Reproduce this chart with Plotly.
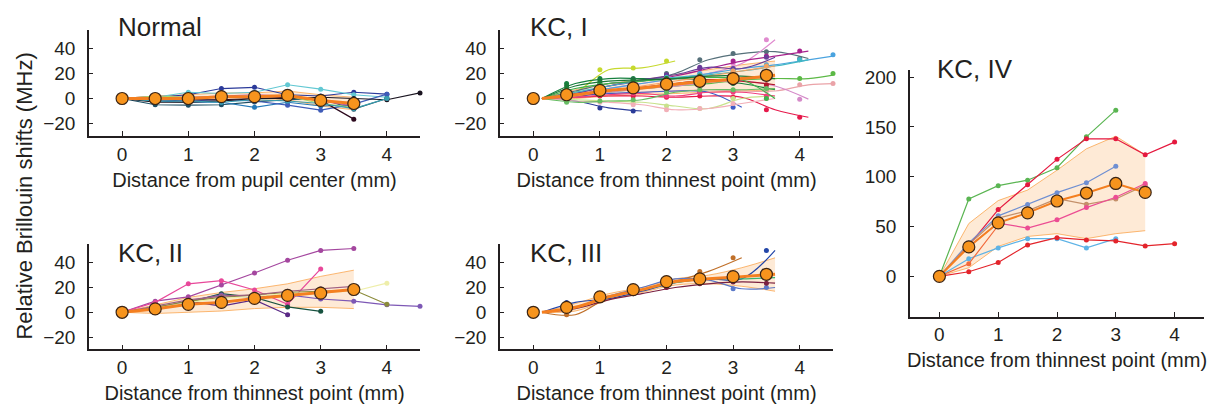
import plotly.graph_objects as go

# ---------------- data ----------------
X_POS = [0, 0.5, 1, 1.5, 2, 2.5, 3, 3.5, 4, 4.5]
X_TICKS = [0, 1, 2, 3, 4]
Y_TICKS_SMALL = [-20, 0, 20, 40]
Y_TICKS_IV = [0, 50, 100, 150, 200]

PANEL_TITLES = ["Normal", "KC, I", "KC, II", "KC, III", "KC, IV"]
X_TITLES = ["Distance from pupil center (mm)",
            "Distance from thinnest point (mm)",
            "Distance from thinnest point (mm)",
            "Distance from thinnest point (mm)",
            "Distance from thinnest point (mm)"]
Y_TITLE = "Relative Brillouin shifts (MHz)"

# Normal
NORMAL_SERIES = [
    [0, 1, 3, 8, 9, 3, 2, 5, 3.5],
    [0, 1, 5, 4, 5, 11, 7.5, 3, 1],
    [0, -5, -5.3, -5, -2.7, -1, 0, -8.5, 0],
    [0, -2, -3, -3, -7, -3, -6, -5],
    [0, -1, -2, -1, -2, -5.3, -9.3, -4.5, 3.5],
    [0, -1, -1, -1, 0, 1, -1.3, -16.5],
    [0, -3, -3, -2, 0, 0, 1, 0, -1, 4.5],
    [0, 2, 1, 2, 3, 2, -2, -6],
    [0, 2, 1, 1, 2, 2, -4, -7],
    [0, -2, -2, -3, -1, -2, -4, -8, 0],
]
NORMAL_MEAN = [0, 0, 0, 1.5, 1.5, 2.5, -1.5, -4]
NORMAL_UPPER = [0, 2, 3, 4.5, 4.5, 6, 3, 1]
NORMAL_LOWER = [0, -2, -3, -1.5, -1.5, -1, -6, -9]

# KC, I
KC1_SERIES = [
    [0, 5, 23, 24.5, 30],
    [0, 12, 16, 16, 16, 15, 12, 7],
    [0, 6, 12, 14, 20, 31, 36, 37.5, 32],
    [0, 3, 8, 12, 16, 20, 28, 47],
    [0, 4, 10, 14, 18, 24, 30, 34, 38],
    [0, 3, 8, 12, 16, 20, 24, 27, 31, 35],
    [0, 2, 5, 8, 10, 12, 15, 16, 16, 20],
    [0, 1, 3, 5, 6, 7, 6, 6, 11, 12],
    [0, 2, 5, 8, 10, 13, 14, 10, -0.5],
    [0, 1, 2, 2, 1, 2, 1, -9, -15],
    [0, -2, -7.5, -10],
    [0, 2, 4, 5, 6, 5, -7],
    [0, -1, -2, -3, -6, -8, 0, 2],
    [0, -2, -3, -5, -9, -8, -4, 0],
    [0, 4, 10, 15, 19, 25, 24, 33],
    [0, 2, 6, 9, 12, 15, 14, 11],
    [0, 5, 10, 14, 17, 19, 22, 26, 31],
    [0, 1, 3, 4, 2, 5, 5, 2],
    [0, -3, -2, -1, 5, 7, 7, 8],
    [0, 2, 6, 10, 14, 18, 22, 26],
    [0, 8, 12, 14, 16, 17, 15, 0],
    [0, 10, 14, 15, 16, 18, 18, 16],
]
KC1_MEAN = [0, 3, 6.5, 8.5, 11.5, 13.8, 16, 18.6]
KC1_UPPER = [0, 7, 12, 15, 19, 23, 27, 30]
KC1_LOWER = [0, 0, 2, 3, 4, 5, 6, 7]

# KC, II
KC2_SERIES = [
    [0, 9, 12.5, 22, 31.7, 42, 50, 51.5],
    [0, 8, 23, 25.5, 18, 6.5, 35],
    [0, 4, 8, 15, 12, 4.3, 0.8],
    [0, 3, 9, 5, 10, -2],
    [0, 3, 9, 14, 12, 14, 10.7, 9, 6, 4.8],
    [0, 4, 9, 12, 14, 16, 17, 18, 6.5],
    [0, 3, 8, 11, 13, 15, 16, 17, 23.5],
    [0, 5, 10, 13, 14, 17, 19, 21],
]
KC2_MEAN = [0, 2.7, 6.4, 8, 11.2, 13.6, 15.5, 18.4]
KC2_UPPER = [0, 6, 12, 16, 19, 23, 29, 34]
KC2_LOWER = [0, -1, 0, 1, 3, 4, 4, 3]

# KC, III
KC3_SERIES = [
    [0, -2, 12, 18, 25, 33, 44],
    [0, 8, 11, 17, 24, 27, 27, 50],
    [0, 4, 13, 20, 27, 26, 19, 20],
    [0, 3, 10, 15, 20, 23, 24.5, 23.5],
    [0, 4, 12, 18, 24, 27, 27, 28],
]
KC3_MEAN = [0, 4, 12.5, 18.3, 24.8, 27, 28.8, 30.7]
KC3_UPPER = [0, 7, 15, 20, 27, 30, 36, 44]
KC3_LOWER = [0, 1, 10, 16, 22, 23, 21, 17]

# KC, IV
KC4_SERIES = [
    [0, 77.6, 91, 96.5, 109, 140, 166.8],
    [0, 31, 67, 92, 117.4, 138, 138, 122, 134.7],
    [0, 33.5, 60.7, 72, 84, 93.9, 110.4],
    [0, 32, 58.4, 65.7, 78, 72.3, 77.6, 91.5],
    [0, 30, 53.4, 48.4, 56.7, 69, 79.3, 93.2],
    [0, 17.6, 28.5, 37.8, 37.8, 28.5, 37.8],
    [0, 12.6, 51],
    [0, 4.6, 13.9, 31.5, 38.8, 36.5, 35.5, 30.5, 32.8],
]
KC4_MEAN = [0, 29.5, 53.7, 63.7, 75.6, 83.6, 93.2, 84.2]
KC4_UPPER = [0, 53, 76, 86.6, 106.5, 128, 140.6, 122]
KC4_LOWER = [0, 8.6, 30, 40, 42.8, 37.8, 42.8, 45.8]

# ---------------- styles ----------------
NORMAL_COLORS = ["#2b3a9a", "#62c8d3", "#1d4e63", "#2479b8", "#3f5cb8",
                 "#2d0a1e", "#1a1420", "#c2539a", "#a6d96a", "#3a9fb0"]
KC1_COLORS = ["#c6d92e", "#17813f", "#56707a", "#e08bcf", "#a8228e",
              "#4aa3df", "#5cb946", "#eaa3a8", "#d58ac9", "#e6194b",
              "#2a3b98", "#3f5cc6", "#c8e28c", "#f2b0b8", "#6a3d9a",
              "#b2182b", "#41b6c4", "#f0407e", "#66bd63", "#f4a261",
              "#3cb44b", "#1b7837"]
KC2_COLORS = ["#a4479f", "#e8489a", "#17523f", "#5b2a86", "#7d58b5",
              "#8b8b3a", "#eeeeaa", "#a06080"]
KC3_COLORS = ["#c0702a", "#2346a8", "#5a78c8", "#7a2040", "#3cb371"]
KC4_COLORS = ["#5ab552", "#e5193f", "#6f8fd2", "#c4906a", "#ec4d93",
              "#5eb3e6", "#f26a3c", "#e3242b"]

TEXT = "#231f20"
FONT = "Liberation Sans, Arial, Helvetica, sans-serif"
MEAN_LINE = "#f47f20"
MEAN_FILL = "#f7941d"
BAND_FILL = "rgba(250,170,90,0.25)"
BAND_EDGE = "rgba(250,160,70,0.75)"

fig = go.Figure()


def axis_names(i):
    s = "" if i == 1 else str(i)
    return "x" + s, "y" + s


def add_panel(i, series, colors, mean, upper, lower, shift, shape, mean_w):
    xa, ya = axis_names(i)
    n = len(mean)
    xb = [x + shift for x in X_POS[:n]]
    common = dict(xaxis=xa, yaxis=ya, showlegend=False, hoverinfo="skip",
                  cliponaxis=False)
    # band
    fig.add_trace(go.Scatter(x=xb, y=lower, mode="lines",
                             line=dict(color=BAND_EDGE, width=1, shape=shape),
                             **common))
    fig.add_trace(go.Scatter(x=xb, y=upper, mode="lines", fill="tonexty",
                             fillcolor=BAND_FILL,
                             line=dict(color=BAND_EDGE, width=1, shape=shape),
                             **common))
    # individual series
    for s, c in zip(series, colors):
        xs = X_POS[:len(s)]
        if shift:
            fig.add_trace(go.Scatter(x=[x + shift for x in xs], y=s, mode="lines",
                                     line=dict(color=c, width=1.2, shape=shape),
                                     **common))
            fig.add_trace(go.Scatter(x=xs[1:], y=s[1:], mode="markers",
                                     marker=dict(color=c, size=5), **common))
        else:
            fig.add_trace(go.Scatter(x=xs, y=s, mode="lines+markers",
                                     line=dict(color=c, width=1.2, shape=shape),
                                     marker=dict(color=c, size=5), **common))
    # mean
    fig.add_trace(go.Scatter(x=xb, y=mean, mode="lines",
                             line=dict(color=MEAN_LINE, width=mean_w, shape=shape),
                             **common))
    fig.add_trace(go.Scatter(x=X_POS[:n], y=mean, mode="markers",
                             marker=dict(color=MEAN_FILL, size=12,
                                         line=dict(color="#3b2414", width=1.2)),
                             **common))


add_panel(1, NORMAL_SERIES, NORMAL_COLORS, NORMAL_MEAN, NORMAL_UPPER, NORMAL_LOWER, 0, "linear", 3)
add_panel(2, KC1_SERIES, KC1_COLORS, KC1_MEAN, KC1_UPPER, KC1_LOWER, 0.13, "spline", 3)
add_panel(3, KC2_SERIES, KC2_COLORS, KC2_MEAN, KC2_UPPER, KC2_LOWER, 0, "linear", 3)
add_panel(4, KC3_SERIES, KC3_COLORS, KC3_MEAN, KC3_UPPER, KC3_LOWER, 0.13, "spline", 3)
add_panel(5, KC4_SERIES, KC4_COLORS, KC4_MEAN, KC4_UPPER, KC4_LOWER, 0, "linear", 2)

W, H = 1212, 404
XDOM = [[89, 420], [500, 833], [89, 420], [500, 833], [910, 1204]]
YDOM = [[27, 134], [27, 134], [243, 349], [243, 349], [67, 316]]
YRANGE = [[-30, 55], [-30, 55], [-30, 55], [-30, 55], [-40.5, 207.6]]
YTICKS = [Y_TICKS_SMALL] * 4 + [Y_TICKS_IV]

layout = dict(width=W, height=H, margin=dict(l=0, r=0, t=0, b=0),
              paper_bgcolor="white", plot_bgcolor="white",
              font=dict(family=FONT, color=TEXT), showlegend=False)

for i in range(1, 6):
    s = "" if i == 1 else str(i)
    xd = XDOM[i - 1]
    yd = YDOM[i - 1]
    layout["xaxis" + s] = dict(
        domain=[xd[0] / W, xd[1] / W], anchor="y" + s, range=[-0.5, 4.5],
        tickvals=X_TICKS, ticks="inside", ticklen=5, tickwidth=1.2,
        tickcolor=TEXT, showline=True, linecolor=TEXT, linewidth=1.5,
        showgrid=False, zeroline=False, tickfont=dict(size=19),
        ticklabelstandoff=0,
        title=dict(text=X_TITLES[i - 1], font=dict(size=20), standoff=9))
    layout["yaxis" + s] = dict(
        domain=[1 - yd[1] / H, 1 - yd[0] / H], anchor="x" + s,
        range=YRANGE[i - 1], tickvals=YTICKS[i - 1], ticks="inside",
        ticklen=4, tickwidth=1.2, tickcolor=TEXT,
        showline=True, linecolor=TEXT, linewidth=1.5, showgrid=False,
        zeroline=False, tickfont=dict(size=19), ticklabelstandoff=8)

fig.update_layout(**layout)

TITLE_POS = [(116, 24), (528, 24), (116, 252), (528, 252), (935, 66)]
for t, (px, py) in zip(PANEL_TITLES, TITLE_POS):
    fig.add_annotation(text=t, x=px / W, y=1 - py / H, xref="paper", yref="paper",
                       xanchor="left", yanchor="middle", showarrow=False,
                       font=dict(size=26, color=TEXT))

fig.add_annotation(text=Y_TITLE, x=25 / W, y=1 - 195 / H, xref="paper", yref="paper",
                   xanchor="center", yanchor="middle", textangle=-90, showarrow=False,
                   font=dict(size=22, color=TEXT))

fig.write_html("out.html")
